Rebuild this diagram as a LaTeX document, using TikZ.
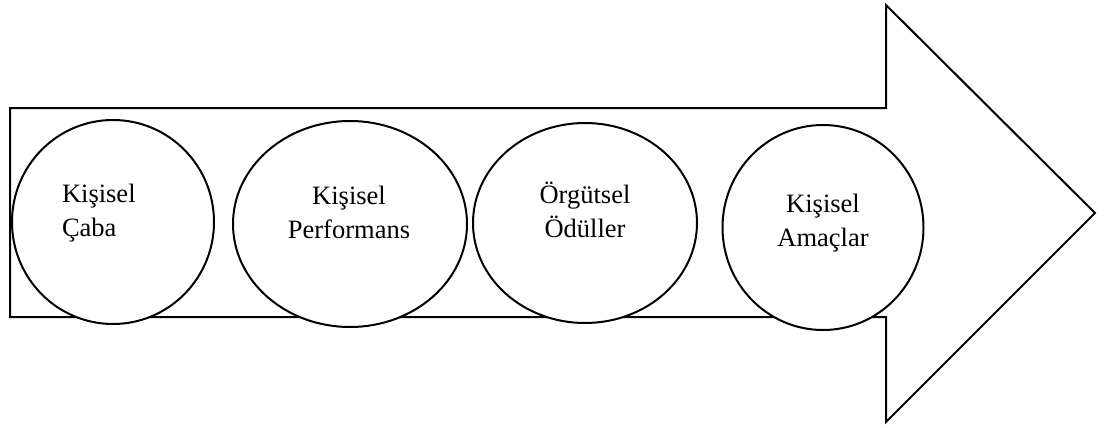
\documentclass[tikz,border=0pt]{standalone}
\usepackage{fontspec}
\setmainfont{Liberation Serif}
\usetikzlibrary{shapes.geometric}
\begin{document}
\begin{tikzpicture}[x=1pt,y=-1pt,
  outline/.style={draw=black,line width=2pt,line join=miter},
  bubble/.style={ellipse,draw=black,fill=white,line width=2pt,inner sep=0pt,outer sep=0pt},
  lbl/.style={font=\fontsize{26.5}{34}\selectfont,inner sep=0pt,outer sep=0pt}]
\useasboundingbox (0,0) rectangle (1109,428);
% big arrow
\draw[outline] (10,108) coordinate (a1) -- (886,108) -- (886,5) -- (1095,213) coordinate (tip)
  -- (886,422) -- (886,317) -- (10,317) -- cycle;
% circles
\node[bubble,minimum width=202pt,minimum height=204pt] (c1) at (113,222) {};
\node[bubble,minimum width=234pt,minimum height=206pt] (c2) at (350,224) {};
\node[bubble,minimum width=224pt,minimum height=200pt] (c3) at (585,223) {};
\node[bubble,minimum width=201pt,minimum height=205pt] (c4) at (823,227.5) {};
% labels (base anchor = baseline of the last line)
\node[lbl,align=left,anchor=base west] (t1) at (62,236) {Kişisel\\Çaba};
\node[lbl,align=center,anchor=base] (t2) at (349,238) {Kişisel\\Performans};
\node[lbl,align=center,anchor=base] (t3) at (585,237) {Örgütsel\\Ödüller};
\node[lbl,align=center,anchor=base] (t4) at (823,246) {Kişisel\\Amaçlar};
\end{tikzpicture}
\end{document}
